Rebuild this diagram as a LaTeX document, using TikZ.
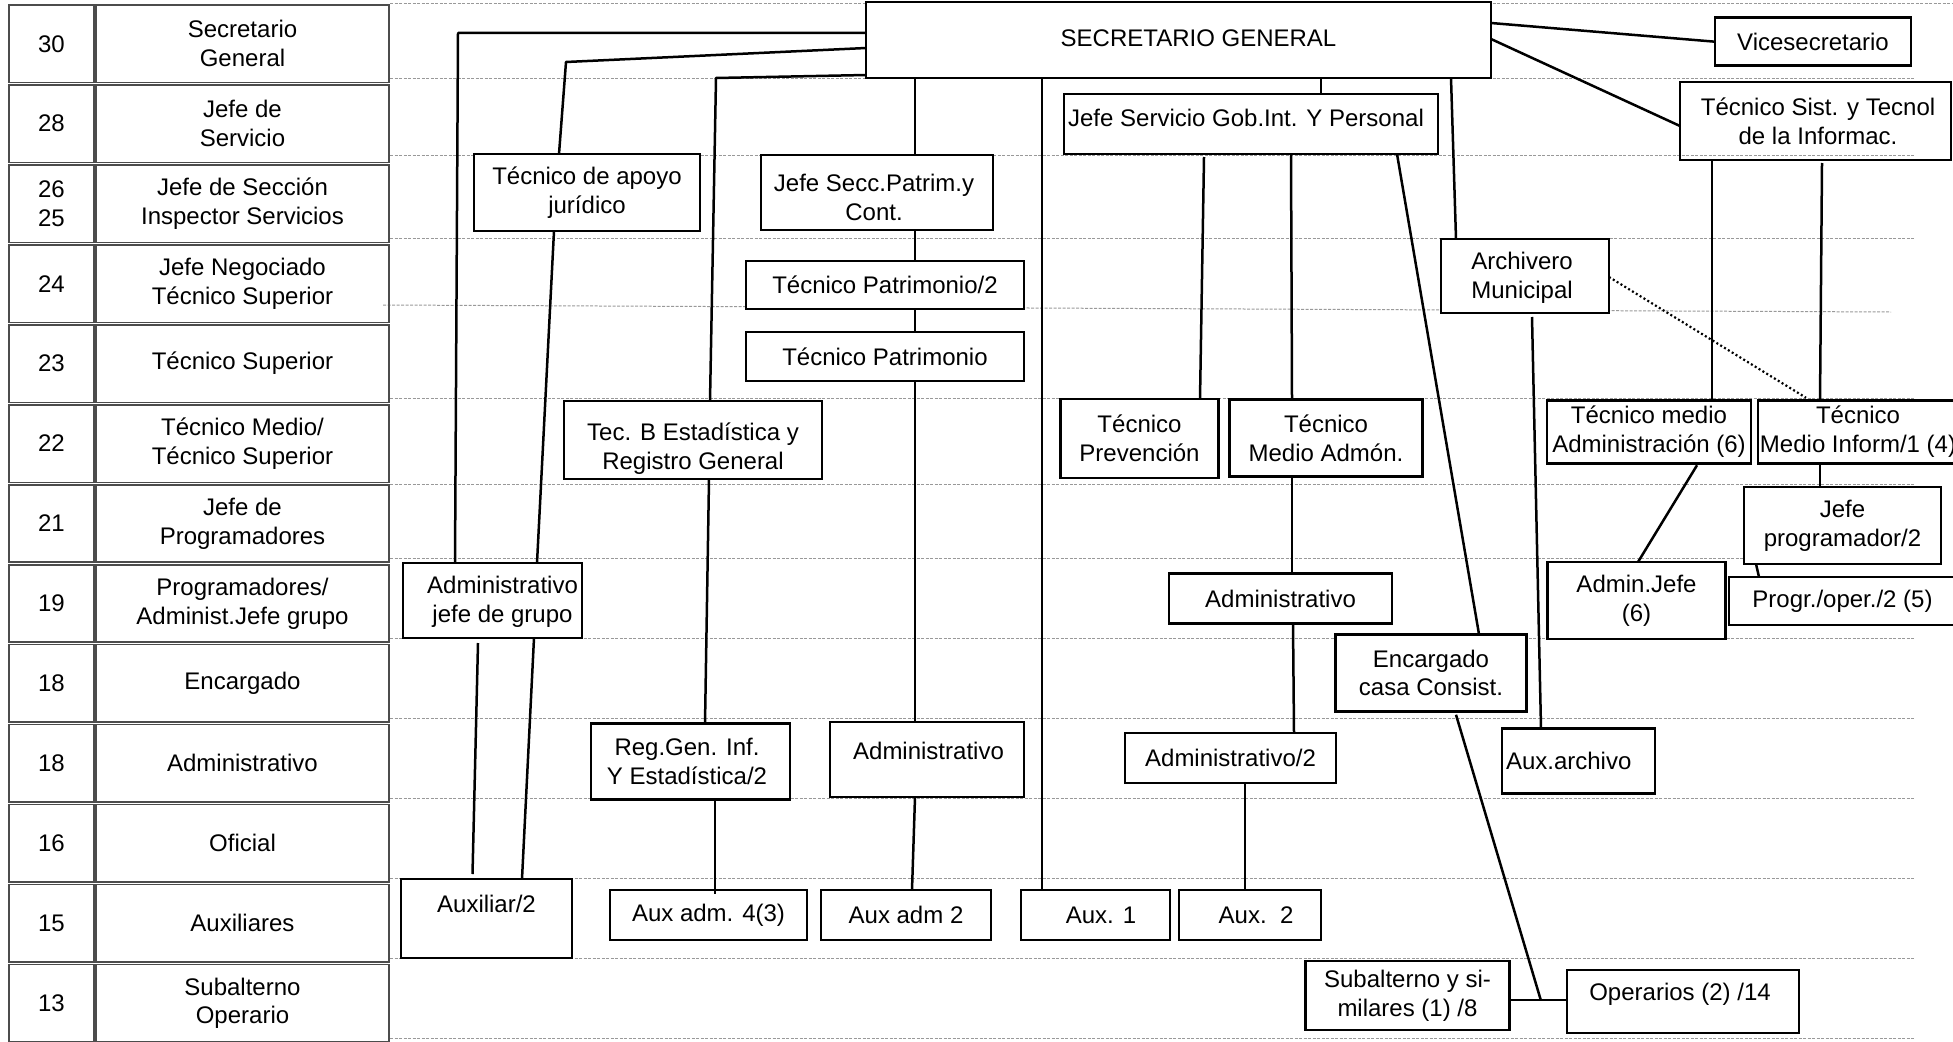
\documentclass[tikz,border=0pt]{standalone}
\usepackage{fontspec}
\setmainfont{Liberation Sans}
\usetikzlibrary{calc}
\tikzset{
  bx/.style={draw=black, line width=2.7pt, fill=white, inner sep=0pt, outer sep=0pt},
  lab/.style={font=\fontsize{24}{28.8}\selectfont, align=center, inner sep=0pt, outer sep=0pt},
  cell/.style={draw=black!70, line width=1.6pt, inner sep=0pt, outer sep=0pt,
    minimum height=77.5pt, font=\fontsize{24}{28.8}\selectfont, align=center},
  cn/.style={line width=2.5pt, line join=round},
  gridline/.style={draw=black!40, line width=1pt, dash pattern=on 3pt off 1.5pt},
  dotline/.style={line width=2.2pt, dash pattern=on 2pt off 2.5pt}
}
\newcommand\orgbox[7][]{\node[bx,#1,minimum width=#4pt,minimum height=#5pt,
  label={[lab,#6]center:{#7}}] (#2) at (#3) {};}
\newcommand\lvlrow[3]{%
  \node[cell,minimum width=85pt] (num#1) at (51.5,{43.75+79.96*#1}) {#2};
  \node[cell,minimum width=293pt] (lvl#1) at (242.5,{43.75+79.96*#1}) {#3};}
\begin{document}
\begin{tikzpicture}[x=1pt,y=-1pt]
\useasboundingbox (0,0) rectangle (1953,1041);
% dotted grid lines
\draw[gridline] (390,4) -- (1953,4);
\foreach \yy in {78,155,238,398,484,558,638,718,798,878,958,1038}
  \draw[gridline] (390,\yy) -- (1915,\yy);
\draw[gridline] (383,305) -- (1891,312);
% left table
\lvlrow{0}{30}{Secretario\\General}
\lvlrow{1}{28}{Jefe de\\Servicio}
\lvlrow{2}{26\\25}{Jefe de Sección\\Inspector Servicios}
\lvlrow{3}{24}{Jefe Negociado\\Técnico Superior}
\lvlrow{4}{23}{Técnico Superior}
\lvlrow{5}{22}{Técnico Medio/\\Técnico Superior}
\lvlrow{6}{21}{Jefe de\\Programadores}
\lvlrow{7}{19}{Programadores/\\Administ.Jefe grupo}
\lvlrow{8}{18}{Encargado}
\lvlrow{9}{18}{Administrativo}
\lvlrow{10}{16}{Oficial}
\lvlrow{11}{15}{Auxiliares}
\lvlrow{12}{13}{Subalterno\\Operario}
% chart boxes
\orgbox{sg}{1178.5,40}{625}{76}{xshift=20pt,yshift=2pt}{SECRETARIO GENERAL}
\orgbox{vice}{1813,41.7}{196}{48}{}{Vicesecretario}
\orgbox[fill=none]{tsist}{1815.5,121}{271}{78}{xshift=2.5pt}{Técnico Sist. y Tecnol\\de la Informac.}
\orgbox{jsgp}{1251,124}{374}{60}{xshift=-5pt,yshift=6pt}{Jefe Servicio Gob.Int. Y Personal}
\orgbox{tapoyo}{587,192.5}{226}{77}{}{Técnico de apoyo\\jurídico}
\orgbox{jsecc}{877,192.5}{232}{75}{xshift=-3pt,yshift=-5pt}{Jefe Secc.Patrim.y\\Cont.}
\orgbox{tp2}{885,285}{278}{48}{}{Técnico Patrimonio/2}
\orgbox{tp}{885,356.5}{278}{49}{}{Técnico Patrimonio}
\orgbox{arch}{1525,276}{168}{74}{xshift=-3pt,yshift=-1.5pt}{Archivero\\Municipal}
\orgbox{tecb}{693,440}{258}{78}{yshift=-9pt}{Tec. B Estadística y\\Registro General}
\orgbox{tprev}{1139.5,438.5}{158.5}{79}{}{Técnico\\Prevención}
\orgbox{tmadm}{1326,438}{192.5}{77.5}{}{Técnico\\Medio Admón.}
\orgbox{tmadmin6}{1649,432}{204}{62.5}{}{Técnico medio\\Administración (6)}
\orgbox{tminf}{1857,432}{198}{62.5}{xshift=1pt}{Técnico\\Medio Inform/1 (4)}
\orgbox{jprog}{1842.5,525.5}{197}{77}{}{Jefe\\programador/2}
\orgbox{progr}{1842.5,601}{227}{48}{}{Progr./oper./2 (5)}
\orgbox{adminjefe}{1636.5,600.5}{178.5}{77}{}{Admin.Jefe\\(6)}
\orgbox{admjg}{492.5,600.5}{179}{75}{xshift=10pt,yshift=-1pt}{Administrativo\\jefe de grupo}
\orgbox{admr}{1280.5,598.5}{223}{50.5}{}{Administrativo}
\orgbox{enc}{1431,673}{190.5}{77.5}{}{Encargado\\casa Consist.}
\orgbox{regg}{690.5,761.5}{199}{75.5}{xshift=-3.5pt}{Reg.Gen. Inf.\\Y Estadística/2}
\orgbox{admm}{927,759.5}{194}{75}{xshift=1.5pt,yshift=8.5pt}{Administrativo}
\orgbox{adm2}{1230.5,758}{211}{50}{}{Administrativo/2}
\node[bx,minimum width=153pt,minimum height=65.5pt,
  label={[lab,anchor=west,xshift=4pt]west:{Aux.archivo}}] (auxarch) at (1578.5,761) {};
\orgbox{auxil2}{486.5,918.5}{171}{79}{yshift=14.5pt}{Auxiliar/2}
\orgbox{aux43}{708.5,915}{197}{50}{}{Aux adm. 4(3)}
\orgbox{auxadm2}{906,915}{170}{50}{}{Aux adm 2}
\orgbox{aux1}{1095.5,915}{149}{50}{xshift=5.5pt}{Aux. 1}
\orgbox{aux2}{1250,915}{142}{50}{xshift=6pt}{Aux.\ \ 2}
\orgbox{subalt}{1407.5,995.5}{204.5}{69}{}{Subalterno y si-\\milares (1) /8}
\orgbox{oper}{1683,1001.5}{232}{63}{xshift=-3pt,yshift=7.5pt}{Operarios (2) /14}
% connectors
\draw[cn] ($(sg.west)+(0,-7)$) -- ($(sg.west)+(-408,-7)$) -- ($(admjg.north)+(-37.5,0)$);
\draw[cn] ($(sg.west)+(0,8)$) -- ($(tapoyo.north)+(-21,-92)$) -- ($(tapoyo.north)+(-28,0)$);
\draw[cn] ($(sg.west)+(0,35)$) -- ($(tecb.north)+(23,-323)$) -- ($(tecb.north)+(17,0)$);
\draw[cn] ($(tapoyo.south)+(-33,0)$) -- ($(admjg.north)+(44.5,0)$);
\draw[cn] ($(tecb.south)+(16,0)$) -- ($(regg.north)+(14.5,0)$);
\draw[cn] ($(regg.south)+(24.5,0)$) -- ($(aux43.north)+(6.5,4)$);
\draw[cn] ($(sg.south)+(-263.5,0)$) -- ($(jsecc.north)+(38,0)$);
\draw[cn] ($(jsecc.south)+(38,0)$) -- ($(tp2.north)+(30,0)$);
\draw[cn] ($(tp2.south)+(30,0)$) -- ($(tp.north)+(30,0)$);
\draw[cn] ($(tp.south)+(30,0)$) -- ($(admm.north)+(-12,0)$);
\draw[cn] ($(admm.south)+(-12,0)$) -- ($(auxadm2.north)+(6,0)$);
\draw[cn] ($(sg.south)+(-136.5,0)$) -- ($(aux1.north)+(-53.5,0)$);
\draw[cn] ($(sg.south)+(142.5,0)$) -- ($(jsgp.north)+(70,0)$);
\draw[cn] ($(sg.south)+(272.5,0)$) -- ($(arch.north)+(-69,0)$);
\draw[cn] ($(sg.east)+(0,-17)$) -- (vice.west);
\draw[cn] ($(sg.east)+(0,-1)$) -- ($(tsist.west)+(0,5)$);
\draw[cn] ($(jsgp.south)+(-47,3)$) -- ($(tprev.north)+(60.5,0)$);
\draw[cn] ($(jsgp.south)+(40,0)$) -- ($(tmadm.north)+(-34,0)$);
\draw[cn] ($(jsgp.south)+(146,0)$) -- ($(enc.north)+(48,0)$);
\draw[cn] ($(tmadm.south)+(-34,0)$) -- ($(admr.north)+(11.5,0)$);
\draw[cn] ($(admr.south)+(12.5,0)$) -- ($(adm2.north)+(63.5,0)$);
\draw[cn] ($(adm2.south)+(14.5,0)$) -- ($(aux2.north)+(-5,0)$);
\coordinate (jn) at ($(subalt.east)+(31,4.5)$);
\draw[cn] ($(subalt.east)+(0,4.5)$) -- ($(oper.west)+(0,-1.5)$);
\draw[cn] ($(enc.south)+(25,3)$) -- (jn);
\draw[cn] ($(arch.south)+(7,4)$) -- ($(auxarch.north)+(-37.5,0)$);
\draw[dotline] ($(arch.east)+(0,1)$) -- ($(tminf.north)+(-51,-3)$);
\draw[cn] ($(tsist.south)+(-103.5,0)$) -- ($(tmadmin6.north)+(63,0)$);
\draw[cn] ($(tsist.south)+(6.5,3)$) -- ($(tminf.north)+(-37,0)$);
\draw[cn] ($(tminf.south)+(-37,0)$) -- ($(jprog.north)+(-22.5,0)$);
\draw[cn] ($(tmadmin6.south)+(48,2)$) -- ($(adminjefe.north)+(1.5,0)$);
\draw[cn] ($(jprog.south)+(-86.5,0)$) -- ($(progr.north)+(-83.5,0)$);
\draw[cn] ($(admjg.south)+(-14.5,5)$) -- ($(auxil2.north)+(-14,-5)$);
\draw[cn] ($(admjg.south)+(41.5,0)$) -- ($(auxil2.north)+(35.5,0)$);
\end{tikzpicture}
\end{document}
